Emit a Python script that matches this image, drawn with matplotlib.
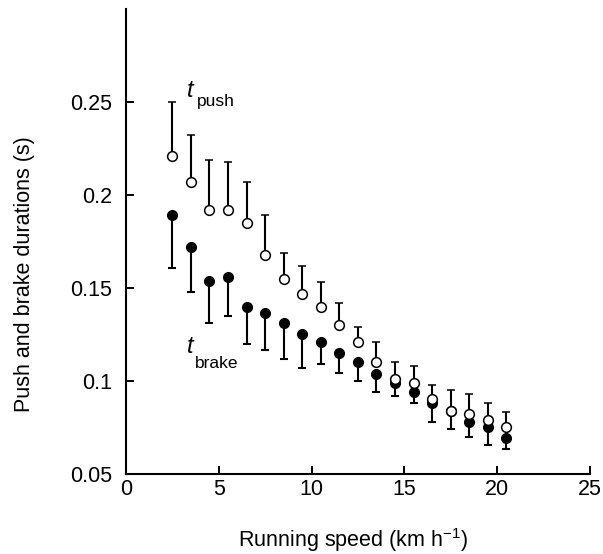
import matplotlib
matplotlib.use("Agg")
import matplotlib.pyplot as plt

plt.rcParams["font.family"] = ["Liberation Sans", "DejaVu Sans"]

# running speed (km/h)
speed = [2.5, 3.5, 4.5, 5.5, 6.5, 7.5, 8.5, 9.5, 10.5, 11.5,
         12.5, 13.5, 14.5, 15.5, 16.5, 17.5, 18.5, 19.5, 20.5]

# push duration (open circles) and upper error
t_push = [0.221, 0.207, 0.192, 0.192, 0.185, 0.168, 0.155, 0.147, 0.140, 0.130,
          0.121, 0.110, 0.101, 0.099, 0.0905, 0.084, 0.0825, 0.079, 0.075]
push_err = [0.029, 0.025, 0.027, 0.026, 0.022, 0.021, 0.014, 0.015, 0.013, 0.012,
            0.008, 0.011, 0.009, 0.009, 0.0075, 0.011, 0.0105, 0.009, 0.0085]

# brake duration (filled circles) and lower error
t_brake = [0.189, 0.172, 0.154, 0.156, 0.140, 0.1365, 0.131, 0.125, 0.121, 0.115,
           0.110, 0.1035, 0.099, 0.094, 0.088, 0.084, 0.078, 0.075, 0.0695]
brake_err = [0.028, 0.024, 0.023, 0.021, 0.020, 0.020, 0.019, 0.018, 0.012, 0.0105,
             0.010, 0.0095, 0.007, 0.006, 0.010, 0.010, 0.008, 0.0093, 0.006]

fig = plt.figure(figsize=(6.03, 5.54), dpi=100)
ax = fig.add_axes([0.209, 0.1444, 0.769, 0.8394])

zeros = [0] * len(speed)
ax.errorbar(speed, t_brake, yerr=[brake_err, zeros], fmt="o", color="black",
            mfc="black", mec="black", ms=7, elinewidth=1.5, capsize=3,
            capthick=1.5, zorder=2)
ax.errorbar(speed, t_push, yerr=[zeros, push_err], fmt="o", color="black",
            mfc="white", mec="black", mew=1.1, ms=7, elinewidth=1.5,
            capsize=3, capthick=1.5, zorder=3)

# curve labels
ax.text(3.3, 0.2527, "t", fontsize=17, style="italic", ha="left", va="baseline")
ax.text(3.83, 0.2478, "push", fontsize=12.5, ha="left", va="baseline")
ax.text(3.3, 0.115, "t", fontsize=17, style="italic", ha="left", va="baseline")
ax.text(3.72, 0.107, "brake", fontsize=12.5, ha="left", va="baseline")

ax.set_xlim(0, 25)
ax.set_ylim(0.05, 0.3)
ax.set_xticks([0, 5, 10, 15, 20, 25])
ax.set_xticklabels(["0", "5", "10", "15", "20", "25"])
ax.set_yticks([0.05, 0.1, 0.15, 0.2, 0.25])
ax.set_yticklabels(["0.05", "0.1", "0.15", "0.2", "0.25"])

for side in ("top", "right"):
    ax.spines[side].set_visible(False)
for side in ("left", "bottom"):
    ax.spines[side].set_linewidth(1.5)

ax.tick_params(axis="both", direction="in", length=6, width=1.4, labelsize=15.5)
ax.tick_params(axis="y", pad=10)
ax.tick_params(axis="x", pad=3.5)

fig.text(353 / 603, 1 - 540 / 554, r"Running speed (km h$^{\mathregular{-1}}$)",
         fontsize=15.5, ha="center", va="center")
fig.text(25 / 603, 1 - 274 / 554, "Push and brake durations (s)",
         fontsize=15.5, rotation=90, ha="center", va="center")

fig.savefig("out.png", dpi=100)
